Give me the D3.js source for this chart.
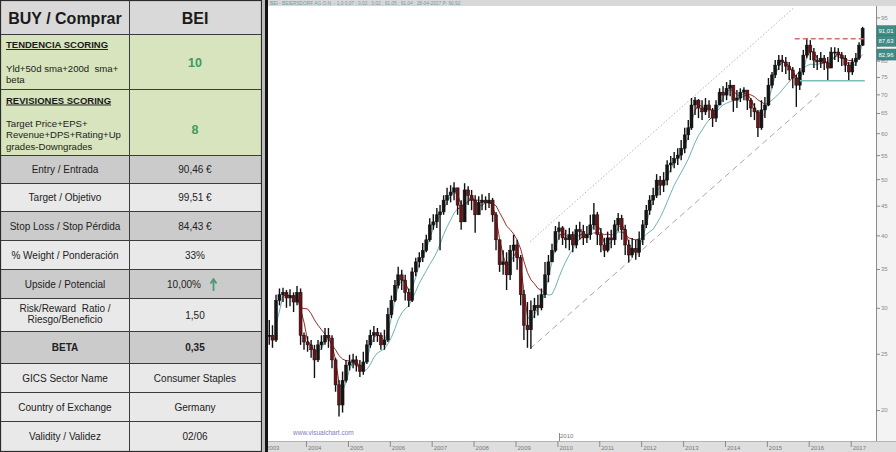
<!DOCTYPE html>
<html><head><meta charset="utf-8">
<script src="https://cdn.jsdelivr.net/npm/d3@7"></script>
<style>body{margin:0;background:#fff;} svg{display:block;} text{font-family:"Liberation Sans",Arial,sans-serif;white-space:pre;}</style>
</head><body><svg id="c" width="896" height="452"></svg>
<script>
// ---------------- DATA ----------------
const headLeft = "BUY / Comprar", headRight = "BEI";
const scoreTitles = ["TENDENCIA SCORING", "REVISIONES SCORING"];
const scoreLines = [["Yld+50d sma+200d  sma+", "beta"], ["Target Price+EPS+", "Revenue+DPS+Rating+Up", "grades-Downgrades"]];
const scoreValues = ["10", "8"];
const rowLabels = [["Entry / Entrada"], ["Target / Objetivo"], ["Stop Loss / Stop Pérdida"], ["% Weight / Ponderación"], ["Upside / Potencial"], ["Risk/Reward  Ratio /", "Riesgo/Beneficio"], ["BETA"], ["GICS Sector Name"], ["Country of Exchange"], ["Validity / Validez"]];
const rowValues = ["90,46 €", "99,51 €", "84,43 €", "33%", "10,00%", "1,50", "0,35", "Consumer Staples", "Germany", "02/06"];

// monthly candles Feb 2003 .. Apr 2017
const closes = [
 26.9,26.4,30.9,31.6,31.9,31.2,31.5,30.7,31.9,26.9,26.2,
 25.9,25.4,24.4,25.9,26.2,26.9,26.6,24.4,22.1,20.4,22.5,23.9,
 24.2,24.4,23.9,23.3,24.2,25.9,26.9,27.2,26.9,25.9,26.4,29.2,
 30.9,32.8,34.2,33.5,31.9,30.9,34.6,36.0,36.6,37.7,39.3,41.7,
 42.2,43.4,43.9,46.0,46.9,47.5,48.3,45.1,42.2,47.9,46.9,46.0,
 43.4,45.6,46.0,45.5,46.0,43.4,39.3,35.6,36.0,34.2,37.7,38.5,
 36.6,31.6,28.0,27.5,29.7,30.3,30.0,31.6,34.2,36.0,37.7,40.6,
 41.2,39.6,39.3,40.1,38.5,40.9,40.6,39.6,40.1,41.7,43.4,40.1,
 38.5,37.7,39.6,39.3,41.7,42.8,40.9,38.5,37.0,38.0,37.4,39.3,
 41.7,44.2,46.0,46.9,49.8,48.8,49.8,52.9,53.3,54.3,55.0,56.5,
 59.6,61.3,67.1,68.4,66.3,65.3,67.1,65.8,63.7,67.1,70.6,69.8,
 71.7,72.6,68.4,69.0,70.6,71.2,68.4,66.3,65.3,61.3,65.8,67.1,
 72.6,75.6,78.6,80.2,79.6,78.3,77.1,74.7,72.6,76.5,81.8,85.1,
 82.8,80.2,79.6,80.8,79.3,77.7,82.8,82.8,81.8,80.8,78.6,76.5,
 79.6,80.8,85.1,91.0];
const highs = [
 28.6,28.0,31.6,32.4,32.5,32.2,32.3,31.9,32.7,32.4,27.2,
 26.8,26.4,25.9,26.4,26.9,27.7,27.7,26.9,24.6,22.5,23.3,24.4,
 24.9,25.0,24.8,24.4,25.2,26.4,27.5,27.9,27.7,27.2,27.5,30.0,
 31.5,33.5,35.3,34.9,34.2,32.4,35.2,36.6,37.4,38.8,40.1,42.8,
 43.5,44.6,45.1,46.9,48.3,48.8,49.4,47.9,46.0,49.2,48.6,47.9,
 46.9,46.7,47.1,46.7,47.3,46.4,43.9,39.3,37.7,37.4,38.5,40.1,
 39.3,37.0,32.2,30.7,30.9,31.2,31.6,32.4,36.0,37.0,38.7,41.5,
 42.2,41.5,40.9,41.2,40.6,41.7,42.2,41.7,41.5,43.4,45.5,43.9,
 41.2,39.6,40.6,40.9,42.5,43.7,43.4,41.7,39.3,39.6,39.3,40.6,
 42.5,45.1,46.9,48.3,51.0,50.6,51.4,53.9,54.8,55.7,56.5,58.4,
 61.3,63.2,69.0,69.3,68.7,68.4,69.0,68.4,66.3,68.4,71.7,72.3,
 73.5,74.1,71.7,71.2,71.7,72.0,71.2,69.0,67.6,65.8,68.4,69.3,
 74.7,76.5,80.2,81.8,81.8,81.2,79.6,78.0,75.6,77.7,83.5,87.5,
 86.8,84.1,81.8,82.8,81.8,81.2,84.4,84.4,84.1,82.8,81.8,79.6,
 80.8,82.5,86.1,91.5];
const lows = [
 25.9,25.6,26.2,30.3,30.7,30.0,30.2,29.5,30.3,25.9,25.4,
 25.2,24.6,22.7,24.2,25.4,25.9,25.6,23.6,21.5,19.5,19.8,22.3,
 23.4,23.6,23.3,22.8,23.0,24.0,25.6,26.2,26.2,25.4,25.4,26.2,
 28.8,30.7,32.4,32.2,30.9,30.1,30.7,34.0,35.2,36.0,37.4,39.0,
 40.9,41.2,37.7,43.4,45.1,45.6,46.0,43.4,40.9,42.2,45.1,44.2,
 40.4,43.4,44.2,44.2,44.6,42.2,37.7,34.6,34.2,32.2,33.5,36.0,
 34.9,30.3,26.4,25.6,25.5,28.8,29.1,29.7,31.2,33.2,36.0,37.4,
 39.3,38.5,38.0,37.7,37.4,38.0,39.3,38.5,38.8,39.3,40.9,38.5,
 37.4,36.7,37.4,38.0,38.5,40.6,39.3,37.0,35.9,36.6,36.3,36.7,
 38.5,41.2,43.4,45.1,46.4,46.9,47.5,48.8,51.4,52.2,52.9,53.9,
 55.4,58.4,60.8,64.5,63.7,63.2,64.5,63.7,61.5,62.7,67.1,67.9,
 68.4,69.5,65.3,66.3,67.9,68.4,65.8,64.0,63.2,59.1,60.8,63.7,
 66.8,71.7,74.7,77.1,76.5,75.9,74.1,71.7,66.6,71.2,75.6,80.8,
 80.2,77.7,77.1,77.7,77.1,74.1,77.7,80.2,79.6,78.3,76.5,74.1,
 75.6,78.3,80.2,84.8];
const firstMonth = new Date(2003, 1, 1);
const yTicks = [20,25,30,35,40,45,50,55,60,65,70,75,80,85,90,95];
const yTickLabels = [20,25,30,35,40,45,50,55,60,65,70,75,80,95];
const tagValues = [91.01, 87.63, 82.96];
const tagLabels = ["91,01", "87,63", "82,96"];
const resistance = 87.3, support = 73.9;
const upperChannel = [[new Date(2009,4,7), 39.0], [new Date(2015,7,22), 98.6]];
const lowerChannel = [[new Date(2009,4,7), 25.5], [new Date(2016,3,8), 70.4]];
const headerInfo = "BEI - BEIERSDORF AG O.N. - 1,0 0,07 ; 0,02 ; 0,02 ; 91,05 ; 91,04 ; 28-04-2017 P: 90,92";

// ---------------- TABLE ----------------
const svg = d3.select("#c");
const border = "#3c3c3c";
const tbl = svg.append("g");
tbl.append("rect").attr("x",0).attr("y",0).attr("width",265).attr("height",452).attr("fill","#c4c4c4");
const rowsGeom = [
 {y0:0,y1:34,fill:"#d9d9d9"},
 {y0:34,y1:89,fill:"#d8e4bd"},
 {y0:89,y1:155,fill:"#d8e4bd"},
 {y0:155,y1:183,fill:"#cbcbcb"},
 {y0:183,y1:211,fill:"#e9e9e9"},
 {y0:211,y1:240,fill:"#cbcbcb"},
 {y0:240,y1:269,fill:"#e9e9e9"},
 {y0:269,y1:298,fill:"#cbcbcb"},
 {y0:298,y1:331,fill:"#e9e9e9"},
 {y0:331,y1:363,fill:"#cbcbcb"},
 {y0:363,y1:392,fill:"#e9e9e9"},
 {y0:392,y1:421,fill:"#e9e9e9"},
 {y0:421,y1:451,fill:"#e9e9e9"}
];
rowsGeom.forEach(r=>{
  tbl.append("rect").attr("x",0.5).attr("y",r.y0+0.5).attr("width",261).attr("height",r.y1-r.y0)
    .attr("fill",r.fill).attr("stroke",border).attr("stroke-width",1);
});
tbl.append("line").attr("x1",129.5).attr("x2",129.5).attr("y1",0).attr("y2",451.5).attr("stroke",border);
tbl.append("rect").attr("x",0.5).attr("y",0.5).attr("width",261).attr("height",451).attr("fill","none").attr("stroke","#2a2a2a").attr("stroke-width",1.2);

// header
tbl.append("text").attr("x",65).attr("y",23.5).attr("text-anchor","middle").attr("font-size",16).attr("font-weight","bold").attr("fill","#1a1a1a").text(headLeft);
tbl.append("text").attr("x",195).attr("y",23.5).attr("text-anchor","middle").attr("font-size",16).attr("font-weight","bold").attr("fill","#1a1a1a").text(headRight);

// scoring rows
const scoreGeom = [{title:48, lines:[71.5, 82.5], val:67}, {title:103.5, lines:[126.5,138,149.5], val:134}];
scoreGeom.forEach((g,i)=>{
  tbl.append("text").attr("x",6).attr("y",g.title).attr("font-size",9.5).attr("font-weight","bold").attr("fill","#1a1a1a")
    .attr("text-decoration","underline").text(scoreTitles[i]);
  scoreLines[i].forEach((t,j)=>{
    tbl.append("text").attr("x",6).attr("y",g.lines[j]).attr("font-size",9.6).attr("fill","#222").text(t);
  });
  tbl.append("text").attr("x",195).attr("y",g.val).attr("text-anchor","middle").attr("font-size",12.5).attr("font-weight","bold").attr("fill","#3d9a5e").text(scoreValues[i]);
});

// simple rows
const rowCenters = [169,197.5,226.5,255.5,284.5,315,347,378,407,436.5];
rowLabels.forEach((lab,i)=>{
  const cy = rowCenters[i];
  const bold = lab[0]==="BETA";
  if (lab.length===1){
    tbl.append("text").attr("x",65).attr("y",cy+3.5).attr("text-anchor","middle").attr("font-size",10).attr("font-weight",bold?"bold":"normal").attr("fill","#222").text(lab[0]);
  } else {
    tbl.append("text").attr("x",65).attr("y",cy-3.5).attr("text-anchor","middle").attr("font-size",10).attr("fill","#222").text(lab[0]);
    tbl.append("text").attr("x",65).attr("y",cy+7.5).attr("text-anchor","middle").attr("font-size",10).attr("fill","#222").text(lab[1]);
  }
  const vx = rowValues[i]==="10,00%" ? 184 : 195;
  tbl.append("text").attr("x",vx).attr("y",cy+3.5).attr("text-anchor","middle").attr("font-size",10).attr("font-weight",bold?"bold":"normal").attr("fill","#222").text(rowValues[i]);
});
// green up arrow next to upside
tbl.append("path").attr("d","M213.5,291 L213.5,280.5 M210.5,283.5 L213.5,279 L216.5,283.5").attr("stroke","#4f9a72").attr("stroke-width",1.8).attr("fill","none");

// ---------------- CHART ----------------
const PL = 268, PR = 876, PT = 6, PB = 441;
svg.append("rect").attr("x",265).attr("y",0).attr("width",631).attr("height",452).attr("fill","#ffffff");
svg.append("rect").attr("x",PR).attr("y",PT).attr("width",896-PR).attr("height",PB-PT).attr("fill","#f3f3f3");
svg.append("rect").attr("x",PL).attr("y",0).attr("width",896-PL).attr("height",PT).attr("fill","#d8d8d8");
svg.append("text").attr("x",270).attr("y",4.6).attr("font-size",4.8).attr("fill","#6b9ea2").text(headerInfo);

const x = d3.scaleTime().domain([new Date(2003,0,1), new Date(2017,0,1)]).range([264.1, 850.7]);
const y = d3.scaleLog().domain([20,95]).range([410,17.4]);

svg.append("defs").append("clipPath").attr("id","plotclip").append("rect")
  .attr("x",PL).attr("y",PT).attr("width",PR-PL).attr("height",PB-PT);
const plot = svg.append("g").attr("clip-path","url(#plotclip)");

const data = closes.map((c,i)=>{
  const d = d3.timeMonth.offset(firstMonth, i);
  const open = i===0 ? c : closes[i-1];
  return {date: d3.timeDay.offset(d, 14), open, close:c,
          high: Math.max(highs[i], open, c), low: Math.min(lows[i], open, c)};
});

// channel lines
const lineGen = d3.line().x(d=>x(d[0])).y(d=>y(d[1]));
plot.append("path").attr("d",lineGen(upperChannel)).attr("stroke","#b5b5b5").attr("stroke-width",1).attr("stroke-dasharray","1.5,2").attr("fill","none");
plot.append("path").attr("d",lineGen(lowerChannel)).attr("stroke","#a8a8a8").attr("stroke-width",1).attr("stroke-dasharray","6,4").attr("fill","none");

// moving averages (computed from closes)
function sma(n){ return closes.map((c,i)=> i < n-1 ? null : d3.mean(closes.slice(i-n+1,i+1))); }
const maFast = sma(3), maSlow = sma(10);
function drawMA(ma){
  for (let i=1;i<ma.length;i++){
    if (ma[i-1]==null || ma[i]==null) continue;
    const col = closes[i] >= ma[i] ? "#6fb3b3" : "#9e2b2b";
    plot.append("path").attr("d", lineGen([[data[i-1].date, ma[i-1]],[data[i].date, ma[i]]]))
      .attr("stroke",col).attr("stroke-width",1).attr("fill","none");
  }
}
drawMA(maSlow); drawMA(maFast);

// candles
const bw = 3;
const cg = plot.append("g");
cg.selectAll("line.w").data(data).join("line").attr("class","w")
  .attr("x1",d=>x(d.date)).attr("x2",d=>x(d.date)).attr("y1",d=>y(d.high)).attr("y2",d=>y(d.low))
  .attr("stroke","#111").attr("stroke-width",1.4);
cg.selectAll("rect.b").data(data).join("rect").attr("class","b")
  .attr("x",d=>x(d.date)-bw/2).attr("width",bw)
  .attr("y",d=>y(Math.max(d.open,d.close)))
  .attr("height",d=>Math.max(1, Math.abs(y(d.open)-y(d.close))))
  .attr("fill",d=>d.close>=d.open ? "#151515" : "#6e1216")
  .attr("stroke","#111").attr("stroke-width",0.5);

// resistance / support
plot.append("path").attr("d",lineGen([[new Date(2015,8,1), resistance],[new Date(2017,4,22), resistance]]))
  .attr("stroke","#d0706a").attr("stroke-width",1.4).attr("stroke-dasharray","5,3").attr("fill","none");
plot.append("path").attr("d",lineGen([[new Date(2015,9,16), support],[new Date(2017,4,4), support]]))
  .attr("stroke","#7fbcbc").attr("stroke-width",1.5).attr("fill","none");

// watermark
svg.append("text").attr("x",293).attr("y",435).attr("font-size",6.5).attr("fill","#7d7dc0").text("www.visualchart.com");

// right axis
const minor = d3.range(18, 100, 1).filter(v => y(v) > PT && y(v) < PB);
const ax = svg.append("g").attr("transform",`translate(${PR},0)`);
ax.call(d3.axisRight(y).tickValues(minor).tickSize(2).tickFormat(""));
ax.call(d3.axisRight(y).tickValues(yTicks).tickSize(4).tickFormat(d => yTickLabels.includes(d) ? d3.format("d")(d) : ""));
ax.select(".domain").attr("d",`M0.5,${PT}V${PB}`).attr("stroke","#8a8a8a");
ax.selectAll(".tick line").attr("stroke","#8a8a8a");
ax.selectAll(".tick text").attr("font-size",6).attr("fill","#8a8a8a").attr("x",5);

// tags
tagValues.forEach((v,i)=>{
  const ty = y(v)+3;
  svg.append("rect").attr("x",877).attr("y",ty-5.5).attr("width",19).attr("height",11).attr("fill","#3f8c86").attr("stroke","#2f6f6a").attr("stroke-width",0.5);
  svg.append("text").attr("x",878.5).attr("y",ty+2.2).attr("font-size",6).attr("fill","#ffffff").text(tagLabels[i]);
});

// bottom axis
svg.append("rect").attr("x",PL).attr("y",PB).attr("width",896-PL).attr("height",452-PB).attr("fill","#dedede");
svg.append("line").attr("x1",PL).attr("x2",896).attr("y1",PB+0.5).attr("y2",PB+0.5).attr("stroke","#b4b4b4");
const xa = svg.append("g").attr("transform",`translate(0,${PB})`);
xa.call(d3.axisBottom(x).ticks(d3.timeYear.every(1)).tickFormat(d3.timeFormat("%Y")).tickSize(6));
xa.select(".domain").remove();
xa.selectAll(".tick line").attr("stroke","#8a8a8a");
xa.selectAll(".tick text").attr("font-size",6).attr("fill","#7a7a7a").attr("text-anchor","start").attr("x",1.5).attr("y",4).attr("dy","0.75em");
svg.append("text").attr("x",560).attr("y",438).attr("font-size",6).attr("fill","#7a7a7a").text("2010");
svg.append("line").attr("x1",559.5).attr("x2",559.5).attr("y1",433).attr("y2",441).attr("stroke","#8a8a8a");

// separator
svg.append("rect").attr("x",262).attr("y",0).attr("width",3).attr("height",452).attr("fill","#bdbdbd");
svg.append("rect").attr("x",265).attr("y",0).attr("width",3).attr("height",452).attr("fill","#141414");
</script></body></html>
